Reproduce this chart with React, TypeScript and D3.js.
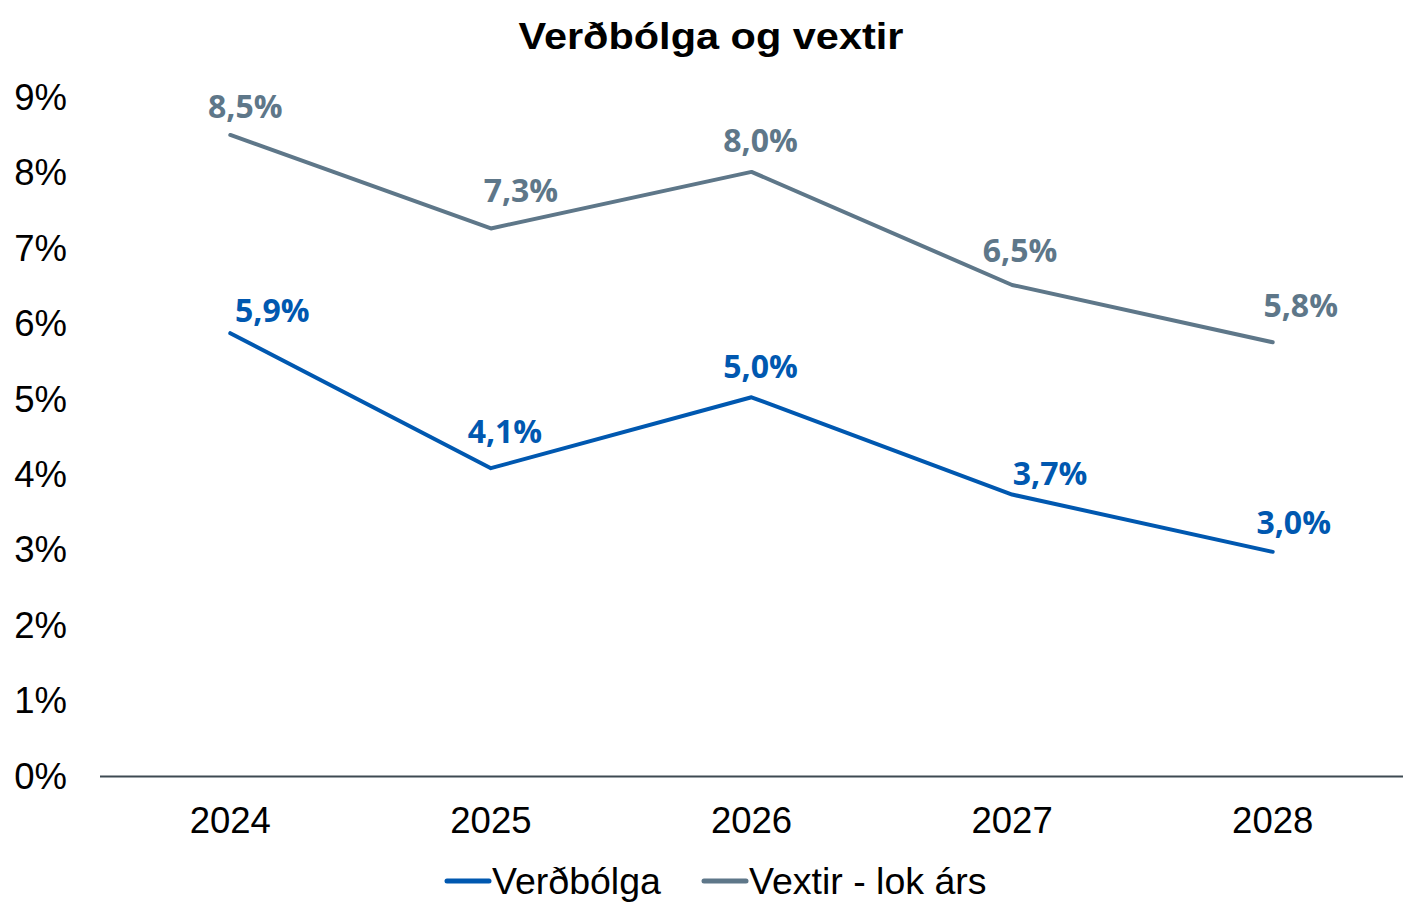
import * as d3 from "d3";

const years = ["2024", "2025", "2026", "2027", "2028"];
const inflation = [5.88, 4.09, 5.03, 3.74, 2.98];
const rates = [8.51, 7.27, 8.02, 6.52, 5.76];
const yTicks = [0, 1, 2, 3, 4, 5, 6, 7, 8, 9];

// hand placed data label offsets (px from the point)
const rateLabelDx = [15, 30, 9, 8, 28];
const rateLabelDy = [-17, -26, -20, -23, -25];
const inflLabelDx = [42, 14, 9, 38, 21];
const inflLabelDy = [-11, -25, -19, -10, -18];

const BLUE = "#0058b0";
const GRAY = "#5e7789";

const series = [
  { name: "Vextir - lok árs", values: rates, color: GRAY, dx: rateLabelDx, dy: rateLabelDy },
  { name: "Verðbólga", values: inflation, color: BLUE, dx: inflLabelDx, dy: inflLabelDy },
];

const legend = [
  { name: "Verðbólga", color: BLUE, x0: 447 },
  { name: "Vextir - lok árs", color: GRAY, x0: 704 },
];

const fmt = (v: number) => v.toFixed(1).replace(".", ",") + "%";

export default function App() {
  const width = 1425;
  const height = 921;
  const margin = { top: 98, right: 22, bottom: 144.5, left: 100 };

  const x = d3.scaleBand(years, [margin.left, width - margin.right]).padding(0);
  const y = d3.scaleLinear([0, 9], [height - margin.bottom, margin.top]);
  const cx = (d: string) => (x(d) ?? 0) + x.bandwidth() / 2;

  const line = d3
    .line<number>()
    .x((_, i) => cx(years[i]))
    .y((v) => y(v));

  return (
    <svg
      width={width}
      height={height}
      viewBox={`0 0 ${width} ${height}`}
      style={{ position: "absolute", left: 0, top: 0, background: "#fff" }}
      fontFamily="Arial, 'Liberation Sans', sans-serif"
    >
      <text
        x={711}
        y={49}
        textAnchor="middle"
        fontSize={37}
        fontWeight={700}
        textLength={385}
        lengthAdjust="spacingAndGlyphs"
        fill="#000"
      >
        Verðbólga og vextir
      </text>

      {yTicks.map((t) => (
        <text
          key={t}
          x={67}
          y={y(t) + 12}
          textAnchor="end"
          fontSize={36.5}
          fill="#000"
        >
          {t}%
        </text>
      ))}

      <line
        x1={margin.left}
        x2={width - margin.right}
        y1={y(0)}
        y2={y(0)}
        stroke="#3e4a52"
        strokeWidth={2}
      />

      {years.map((yr) => (
        <text
          key={yr}
          x={cx(yr)}
          y={y(0) + 56.5}
          textAnchor="middle"
          fontSize={36.5}
          fill="#000"
        >
          {yr}
        </text>
      ))}

      {series.map((s) => (
        <g key={s.name}>
          <path
            d={line(s.values) ?? ""}
            fill="none"
            stroke={s.color}
            strokeWidth={4}
            strokeLinecap="round"
            strokeLinejoin="round"
          />
          {s.values.map((v, i) => (
            <text
              key={i}
              x={cx(years[i]) + s.dx[i]}
              y={y(v) + s.dy[i]}
              textAnchor="middle"
              fontSize={32}
              fontWeight={700}
              fontFamily="'Open Sans', 'Noto Sans', sans-serif"
              fill={s.color}
            >
              {fmt(v)}
            </text>
          ))}
        </g>
      ))}

      {legend.map((l) => (
        <g key={l.name}>
          <line
            x1={l.x0}
            x2={l.x0 + 42}
            y1={881}
            y2={881}
            stroke={l.color}
            strokeWidth={5}
            strokeLinecap="round"
          />
          <text x={l.x0 + 45} y={894} fontSize={37.5} fill="#000">
            {l.name}
          </text>
        </g>
      ))}
    </svg>
  );
}
